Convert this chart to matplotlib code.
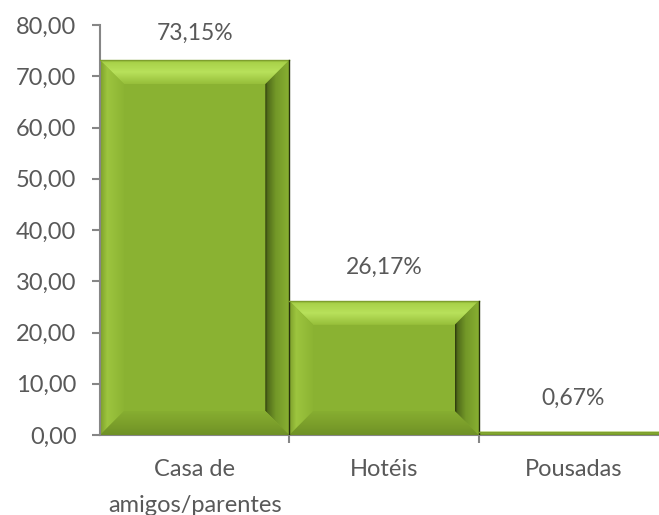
import matplotlib.pyplot as plt
from matplotlib.patches import Polygon
from matplotlib.colors import to_rgb
import numpy as np

categorias = ["Casa de\namigos/parentes", "Hotéis", "Pousadas"]
valores = [73.15, 26.17, 0.67]
rotulos = ["73,15%", "26,17%", "0,67%"]
yticks = [0, 10, 20, 30, 40, 50, 60, 70, 80]

cinza = "#595959"
eixo = "#868686"

fig = plt.figure(figsize=(6.59, 5.15), dpi=100)
ax = fig.add_axes([100 / 659, 1 - 435 / 515, 568 / 659, 410 / 515])
ax.set_xlim(-0.5, 2.5)
ax.set_ylim(0, 80)


def gradiente(ax, pts, cores, vertical=True):
    # preenche o poligono com um degradê passando pelas cores dadas
    pts = np.array(pts)
    xmin, xmax = pts[:, 0].min(), pts[:, 0].max()
    ymin, ymax = pts[:, 1].min(), pts[:, 1].max()
    if xmax - xmin <= 0 or ymax - ymin <= 0:
        return
    pos = [p for p, c in cores]
    rgb = np.array([to_rgb(c) for p, c in cores])
    t = np.linspace(0, 1, 128)
    img = np.stack([np.interp(t, pos, rgb[:, k]) for k in range(3)], axis=1)
    img = img[:, None, :] if vertical else img[None, :, :]
    poly = Polygon(pts, closed=True, facecolor="none", edgecolor="none")
    ax.add_patch(poly)
    im = ax.imshow(img, extent=(xmin, xmax, ymin, ymax), origin="lower",
                   aspect="auto", interpolation="bilinear", zorder=2)
    im.set_clip_path(poly)


# tamanho do chanfro em pixels convertido para unidades de dados
px_x = 568 / 3.0
px_y = 410 / 80.0
bev = 24
face = "#8AB232"

for i, v in enumerate(valores):
    x0, x1 = i - 0.5, i + 0.5
    by = min(bev / px_y, v / 2)
    bx = by * px_y / px_x
    ax.bar(i, v, width=1.0, color=face, zorder=1)
    # topo (claro)
    gradiente(ax, [(x0, v), (x1, v), (x1 - bx, v - by), (x0 + bx, v - by)],
              [(0, "#96BE3A"), (0.5, "#B8E15B"), (0.9, "#A9D24A"), (1, "#8FB736")])
    # esquerda
    gradiente(ax, [(x0, 0), (x0, v), (x0 + bx, v - by), (x0 + bx, by)],
              [(0, "#7C9E2A"), (0.3, "#9DC53F"), (1, "#8CB433")], vertical=False)
    # direita (escura)
    gradiente(ax, [(x1, 0), (x1, v), (x1 - bx, v - by), (x1 - bx, by)],
              [(0, "#2A350C"), (0.1, "#506B1A"), (0.45, "#739828"), (1, "#88AF32")],
              vertical=False)
    # base
    gradiente(ax, [(x0, 0), (x1, 0), (x1 - bx, by), (x0 + bx, by)],
              [(0, "#6F9126"), (0.5, "#7CA02B"), (1, "#87AE31")])
    ax.plot([x0, x1], [v, v], color="#7F9F2E", lw=1, zorder=3)
    ax.plot([x1, x1], [0, v], color="#26300C", lw=1, zorder=3)
    desloc = 20 if v > 70 else 27
    ax.annotate(rotulos[i], (i, v), xytext=(0, desloc), textcoords="offset pixels",
                ha="center", va="baseline", fontsize=16.5, color=cinza,
                family="Lato")

ax.set_xlim(-0.5, 2.5)
ax.set_ylim(0, 80)

ax.set_yticks(yticks)
ax.set_yticklabels([f"{t:.2f}".replace(".", ",") for t in yticks])
ax.set_xticks(range(len(categorias)))
ax.set_xticklabels(categorias, linespacing=1.9)
ax.set_xticks([0.5, 1.5], minor=True)
ax.tick_params(axis="x", which="major", length=0, pad=17, labelsize=17,
               labelcolor=cinza)
ax.tick_params(axis="x", which="minor", length=6, width=1.5, color=eixo)
ax.tick_params(axis="y", length=6, width=1.5, color=eixo, labelsize=17,
               labelcolor=cinza, pad=11)
for lab in ax.get_xticklabels() + ax.get_yticklabels():
    lab.set_family("Lato")

for s in ["top", "right"]:
    ax.spines[s].set_visible(False)
for s in ["left", "bottom"]:
    ax.spines[s].set_color(eixo)
    ax.spines[s].set_linewidth(1.5)
ax.spines["bottom"].set_zorder(0)

fig.savefig("out.png", dpi=100)
